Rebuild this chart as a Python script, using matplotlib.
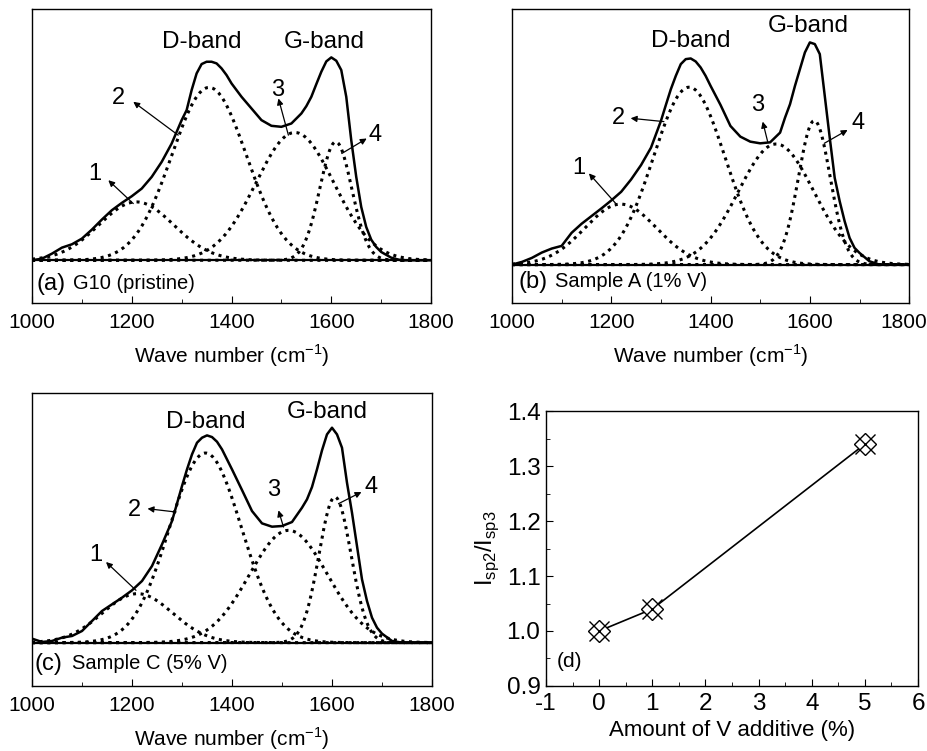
import numpy as np
import matplotlib
matplotlib.use('Agg')
import matplotlib.pyplot as plt
from matplotlib.ticker import MultipleLocator
from matplotlib.transforms import ScaledTranslation

plt.rcParams['font.family'] = ['Liberation Sans', 'DejaVu Sans']
plt.rcParams['mathtext.fontset'] = 'custom'
plt.rcParams['mathtext.rm'] = 'Liberation Sans'
plt.rcParams['axes.unicode_minus'] = False

# measured spectra (height above baseline, arb. units), finer steps near the peaks
wn = (list(range(1000, 1301, 20)) + list(range(1310, 1401, 10)) + list(range(1420, 1541, 20))
      + list(range(1550, 1701, 10)) + list(range(1720, 1801, 20)))
spec_a = ([0, 5, 20, 38, 48, 65, 92, 122, 150, 172, 192, 215, 250, 295, 350, 420]
          + [450, 510, 560, 588, 595, 595, 590, 575, 555, 530]
          + [490, 455, 420, 403, 400, 410, 440]
          + [462, 490, 528, 565, 596, 608, 598, 570, 490, 360, 250, 160, 100, 62, 40, 25]
          + [8, 0, 0, 0, 0])
spec_b = ([0, 8, 20, 36, 48, 56, 95, 122, 145, 168, 192, 218, 255, 298, 350, 430]
          + [478, 525, 565, 600, 615, 617, 608, 590, 565, 535]
          + [478, 415, 383, 368, 363, 366, 395]
          + [440, 480, 535, 585, 635, 665, 660, 630, 505, 380, 260, 190, 130, 80, 50, 35]
          + [10, 0, 0, 0, 0])
spec_c = ([12, 2, 5, 15, 20, 35, 65, 95, 115, 135, 157, 185, 230, 295, 365, 470]
          + [520, 565, 600, 615, 622, 617, 603, 580, 550, 520]
          + [458, 395, 358, 348, 350, 362, 405]
          + [430, 467, 520, 577, 625, 645, 625, 585, 480, 390, 290, 190, 125, 75, 45, 27]
          + [5, 0, 0, 0, 0])

# fitted components: centre (cm-1), height, sigma
centres_a = [1209, 1355, 1527, 1609]
heights_a = [175, 518, 383, 355]
sigmas_a = [75, 75, 78, 32]

centres_b = [1219, 1357, 1532, 1609]
heights_b = [181, 531, 361, 431]
sigmas_b = [72, 72, 76, 32]

centres_c = [1211, 1347, 1513, 1606]
heights_c = [147, 569, 337, 437]
sigmas_c = [70, 72, 78, 32]

# panel d
v_amount = [0, 1, 5]
ratio = [1.00, 1.04, 1.34]

panels = [
    dict(y=spec_a, c=centres_a, h=heights_a, s=sigmas_a, ylim=(-128, 753), name='(a)', sample='G10 (pristine)',
         name_pos=(1009, -70), dband=(1340, 655), gband=(1585, 655),
         nums=[((1126, 260), (1203, 170), (1153, 240)),
               ((1173, 485), (1293, 375), (1203, 475)),
               ((1492, 510), (1514, 375), (1494, 485)),
               ((1688, 375), (1621, 320), (1671, 365))]),
    dict(y=spec_b, c=centres_b, h=heights_b, s=sigmas_b, ylim=(-115, 765), name='(b)', sample='Sample A (1% V)',
         name_pos=(1013, -52), dband=(1360, 668), gband=(1596, 713),
         nums=[((1135, 288), (1209, 183), (1155, 273)),
               ((1215, 438), (1306, 428), (1239, 438)),
               ((1495, 478), (1515, 368), (1505, 428)),
               ((1697, 423), (1629, 363), (1676, 403))]),
    dict(y=spec_c, c=centres_c, h=heights_c, s=sigmas_c, ylim=(-130, 749), name='(c)', sample='Sample C (5% V)',
         name_pos=(1005, -63), dband=(1347, 662), gband=(1590, 692),
         nums=[((1128, 262), (1208, 157), (1148, 242)),
               ((1205, 397), (1288, 392), (1231, 402)),
               ((1483, 457), (1503, 347), (1493, 397)),
               ((1679, 467), (1613, 417), (1659, 452))]),
]

fig = plt.figure(figsize=(9.28, 7.51), dpi=100)
rects = [(0.0345, 0.5965, 0.430, 0.3915),
         (0.5517, 0.5965, 0.428, 0.3915),
         (0.0345, 0.0866, 0.431, 0.390)]

xfit = np.arange(1000, 1801, 2)
for k, (p, r) in enumerate(zip(panels, rects)):
    ax = fig.add_axes(r)
    for c, h, s in zip(p['c'], p['h'], p['s']):
        comp = h * np.exp(-0.5 * ((xfit - c) / s) ** 2)
        ax.plot(xfit, comp, color='black', linestyle=(0, (1, 1.5)), linewidth=2.2)
    ax.plot(wn, p['y'], color='black', linewidth=1.8)
    ax.plot([1000, 1800], [0, 0], color='black', linewidth=1.6)
    ax.set_xlim(1000, 1800)
    ax.set_ylim(*p['ylim'])
    ax.set_yticks([])
    ax.set_xticks([1000, 1200, 1400, 1600, 1800])
    ax.xaxis.set_minor_locator(MultipleLocator(100))
    ax.tick_params(axis='x', which='both', direction='in', labelsize=15, pad=7)
    ax.tick_params(axis='x', which='major', length=5)
    ax.tick_params(axis='x', which='minor', length=3)
    if k == 1:
        # keep the last label of the top-right panel inside the figure
        lab = ax.get_xticklabels()[-1]
        lab.set_transform(lab.get_transform() + ScaledTranslation(-4 / 72, 0, fig.dpi_scale_trans))
    ax.set_xlabel('Wave number (cm$^{-1}$)', fontsize=15, labelpad=8)
    ax.text(p['dband'][0], p['dband'][1], 'D-band', fontsize=17.5, ha='center', va='center')
    ax.text(p['gband'][0], p['gband'][1], 'G-band', fontsize=17.5, ha='center', va='center')
    for i, (lab, tail, head) in enumerate(p['nums']):
        ax.text(lab[0], lab[1], str(i + 1), fontsize=17, ha='center', va='center')
        ax.annotate('', xy=head, xytext=tail,
                    arrowprops=dict(arrowstyle='-|>', color='black', lw=0.9,
                                    mutation_scale=9, shrinkA=0, shrinkB=0))
    ax.text(p['name_pos'][0], p['name_pos'][1], p['name'], fontsize=17, ha='left', va='center')
    ax.text(p['name_pos'][0] + 74, p['name_pos'][1], p['sample'], fontsize=14.5, ha='left', va='center')
    for sp in ax.spines.values():
        sp.set_linewidth(1.0)

# panel d
ax = fig.add_axes((0.5884, 0.0866, 0.4009, 0.366))
ax.plot(v_amount, ratio, color='black', linewidth=1.2)
ax.plot(v_amount, ratio, linestyle='none', marker='D', markersize=11, markerfacecolor='white',
        markeredgecolor='black', markeredgewidth=1.0)
ax.plot(v_amount, ratio, linestyle='none', marker='x', markersize=14, color='black', markeredgewidth=1.0)
ax.set_xlim(-1, 6)
ax.set_ylim(0.9, 1.4)
ax.set_xticks(range(-1, 7))
ax.xaxis.set_minor_locator(MultipleLocator(0.5))
ax.set_yticks([0.9, 1.0, 1.1, 1.2, 1.3, 1.4])
ax.set_yticklabels(['0.9', '1.0', '1.1', '1.2', '1.3', '1.4'])
ax.yaxis.set_minor_locator(MultipleLocator(0.05))
ax.tick_params(which='both', direction='in', labelsize=17.5)
ax.tick_params(which='major', length=5)
ax.tick_params(which='minor', length=3)
ax.tick_params(axis='x', pad=5)
ax.tick_params(axis='y', pad=4)
ax.set_xlabel('Amount of V additive (%)', fontsize=16, labelpad=4)
ax.set_ylabel('I$_{\\mathrm{sp2}}$/I$_{\\mathrm{sp3}}$', fontsize=17, labelpad=4)
ax.text(-0.79, 0.944, '(d)', fontsize=15, ha='left', va='center')
for sp in ax.spines.values():
    sp.set_linewidth(1.0)

fig.savefig('out.png', dpi=100)
